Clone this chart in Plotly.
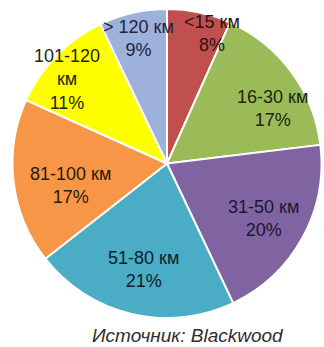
import plotly.graph_objects as go

# Data (slice shares as drawn, labels as printed)
categories = ["<15 км", "16-30 км", "31-50 км", "51-80 км", "81-100 км", "101-120<br>км", "> 120 км"]
slice_shares = [6.7, 16.4, 19.9, 21.5, 17.3, 11.2, 7.1]
percent_labels = ["8%", "17%", "20%", "21%", "17%", "11%", "9%"]
colors = ["#C0504D", "#9BBB59", "#8064A2", "#4BACC6", "#F79646", "#FFFF00", "#9EB1DA"]
source_text = "Источник: Blackwood"

W, H = 324, 347
# label centres in pixels (x, y from top)
label_pos = [(212, 33), (272, 109), (263, 218), (143, 269), (70, 185), (67, 79), (138, 38)]
text_colors = ["#2a1414", "#1e2410", "#1e1630", "#0e1e2a", "#2a1a0a", "#24240a", "#1c2440"]

fig = go.Figure(go.Pie(
    labels=categories,
    values=slice_shares,
    sort=False,
    direction="clockwise",
    rotation=0,
    marker=dict(colors=colors, line=dict(color="white", width=2)),
    textinfo="none",
    hoverinfo="label+percent",
    showlegend=False,
    domain=dict(x=[12 / W, 322 / W], y=[1 - 318 / H, 1 - 9 / H]),
))

annotations = []
for cat, pct, (px, py), tc in zip(categories, percent_labels, label_pos, text_colors):
    annotations.append(dict(
        x=px / W, y=1 - py / H, xref="paper", yref="paper",
        text=f"{cat}<br>{pct}", showarrow=False,
        xanchor="center", yanchor="middle",
        font=dict(family="Liberation Sans, Arial, sans-serif", size=18, color=tc),
    ))
annotations.append(dict(
    x=188 / W, y=1 - 335 / H, xref="paper", yref="paper",
    text=f"<i>{source_text}</i>", showarrow=False,
    xanchor="center", yanchor="middle",
    font=dict(family="Liberation Sans, Arial, sans-serif", size=19, color="#2e2e2e"),
))

fig.update_layout(
    width=W, height=H,
    margin=dict(l=0, r=0, t=0, b=0),
    paper_bgcolor="white",
    plot_bgcolor="white",
    annotations=annotations,
)

fig.write_html("out.html")
